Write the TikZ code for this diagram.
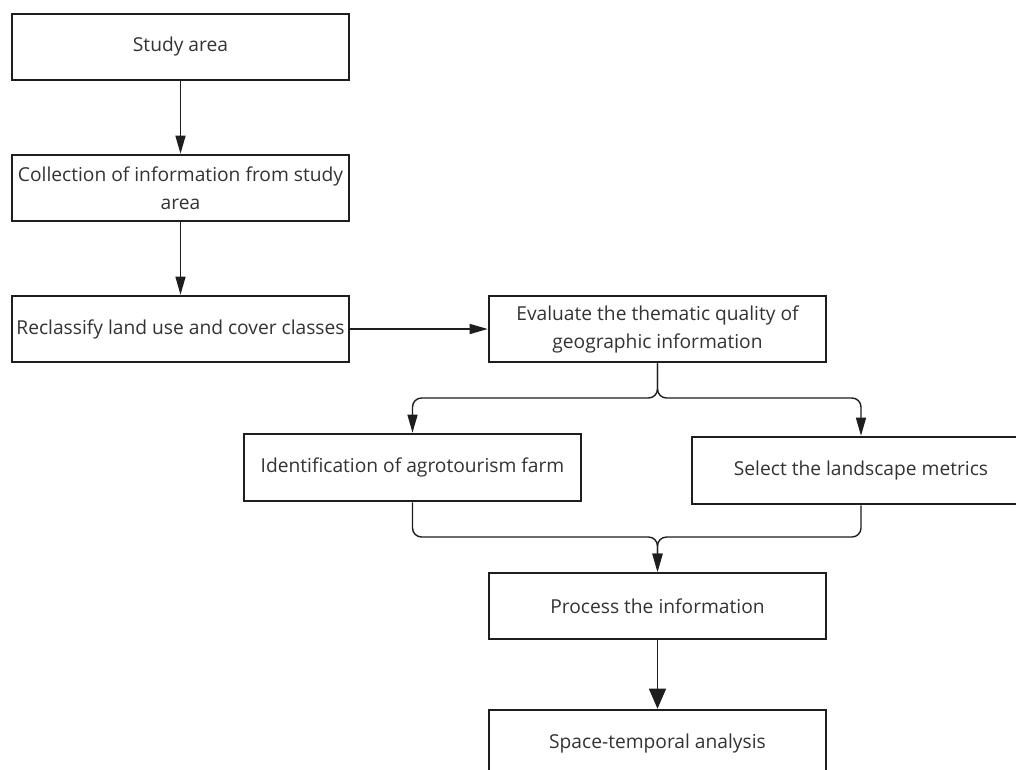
\documentclass[tikz,border=0pt]{standalone}
\usepackage{fontspec}
\setmainfont{Open Sans}
\usetikzlibrary{arrows.meta}
\definecolor{boxline}{HTML}{1E1E1E}
\definecolor{txt}{HTML}{333333}
\begin{document}
\begin{tikzpicture}[x=1pt,y=-1pt,
  box/.style={draw=boxline,line width=2.6pt,rectangle,inner sep=0pt,
    minimum width=337pt,minimum height=66pt,align=center,text=txt,
    font=\fontsize{19.2}{28}\selectfont},
  conn/.style={draw=boxline,line width=1.4pt,-{Triangle[length=18pt,width=10pt]}},
  bigconn/.style={draw=boxline,line width=1.4pt,-{Triangle[length=20pt,width=17pt]}}]
\useasboundingbox (0,0) rectangle (1016,769);
\clip (0,0) rectangle (1016,769);
\fill[white] (0,0) rectangle (1016,769);
\node[box] (b1) at (180.5,47) {Study area};
\node[box] (b2) at (180.5,188) {Collection of information from study\\area};
\node[box] (b3) at (180.5,329) {Reclassify land use and cover classes};
\node[box] (b4) at (657.5,329) {Evaluate the thematic quality of\\geographic information};
\node[box,minimum height=67pt] (b5) at (412.5,467.5) {Identification of agrotourism farm};
\node[box,minimum width=338pt,minimum height=67pt] (b6) at (861,470.5) {Select the landscape metrics};
\node[box] (b7) at (657.5,606) {Process the information};
\node[box] (b8) at (657.5,743) {Space-temporal analysis};
\coordinate (split) at (657.5,398);
\coordinate (merge) at (657.5,537);
\draw[conn] (b1) -- (b2);
\draw[conn] (b2) -- (b3);
\draw[conn] (b3) -- (b4);
\draw[conn,rounded corners=9pt] (b4.south) -- (split) -| (b5.north);
\draw[conn,rounded corners=9pt] (b4.south) -- (split) -| (b6.north);
\draw[conn,rounded corners=9pt] (b5.south) |- (merge) -- (b7.north);
\draw[conn,rounded corners=9pt] (b6.south) |- (merge) -- (b7.north);
\draw[bigconn] (b7) -- (b8);
\end{tikzpicture}
\end{document}
